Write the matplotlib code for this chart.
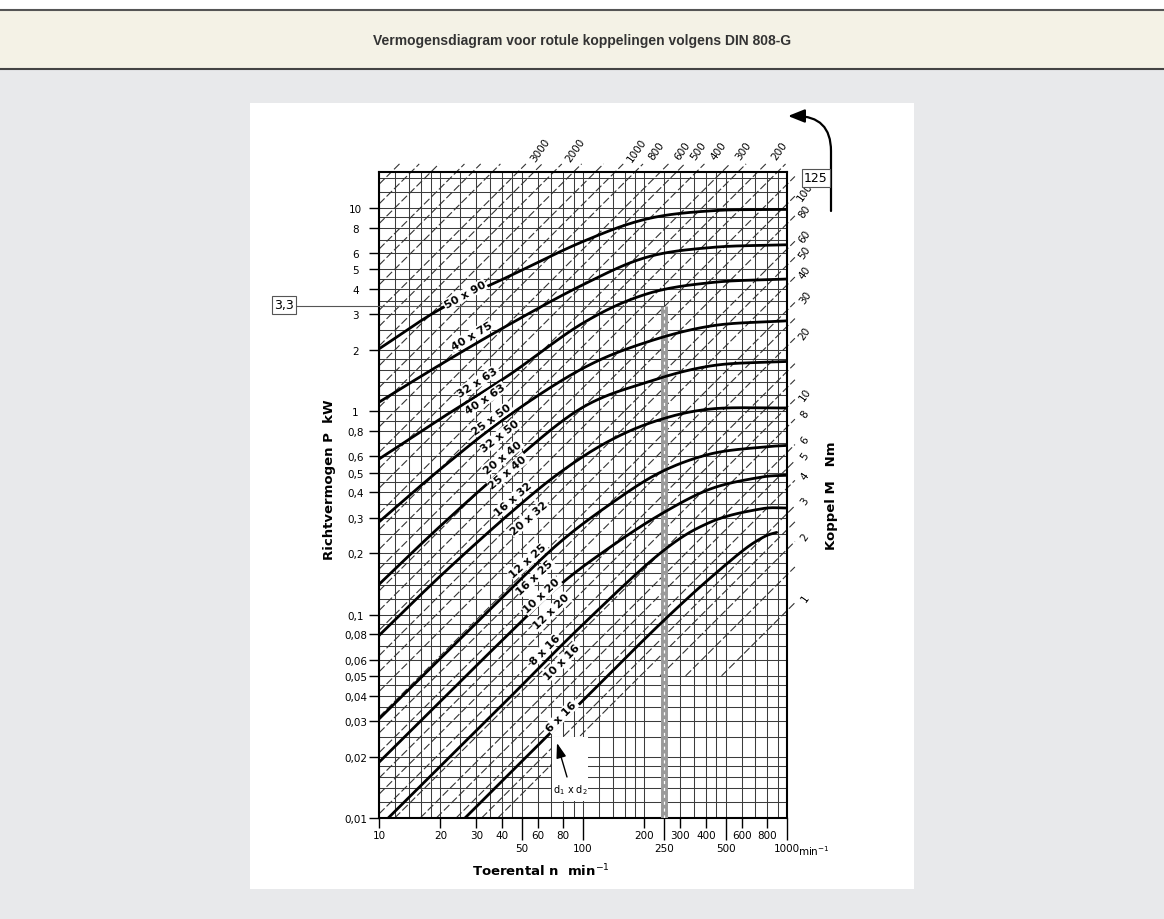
import numpy as np
import matplotlib.pyplot as plt
from matplotlib.patches import Rectangle, FancyArrowPatch
from matplotlib.lines import Line2D
from matplotlib.ticker import NullLocator

W, H = 1164, 920
title = "Vermogensdiagram voor rotule koppelingen volgens DIN 808-G"

# axis ticks
n_ticks_row1 = [10, 20, 30, 40, 60, 80, 200, 300, 400, 600, 800]
n_ticks_row2 = [50, 100, 250, 500, 1000]
p_ticks = [0.01, 0.02, 0.03, 0.04, 0.05, 0.06, 0.08, 0.1, 0.2, 0.3, 0.4,
           0.5, 0.6, 0.8, 1, 2, 3, 4, 5, 6, 8, 10]
p_tick_labels = ["0,01", "0,02", "0,03", "0,04", "0,05", "0,06", "0,08", "0,1",
                 "0,2", "0,3", "0,4", "0,5", "0,6", "0,8", "1", "2", "3", "4",
                 "5", "6", "8", "10"]
grid_steps = [1, 1.2, 1.4, 1.6, 1.8, 2, 2.5, 3, 3.5, 4, 4.5, 5, 6, 7, 8, 9]

# torque lines (Nm)
torque_lines = [1, 1.5, 2, 2.5, 3, 4, 5, 6, 8, 10, 12.5, 15, 20, 25, 30, 40, 50,
                60, 80, 100, 125, 160, 200, 250, 300, 400, 500, 600, 800, 1000,
                1250, 1600, 2000, 2500, 3000, 4000, 5000, 6000, 8000, 10000, 12500]
torque_right_labels = [1, 2, 3, 4, 5, 6, 8, 10, 20, 30, 40, 50, 60, 80, 100]
torque_top_labels = [200, 300, 400, 500, 600, 800, 1000, 2000, 3000]

# coupling curves (n in min-1, P in kW)
n_90 = [10, 20, 43, 100, 205, 433, 1000]
p_90 = [2.03, 3.19, 4.6, 6.85, 8.84, 9.71, 9.85]
n_75 = [10, 20, 43, 100, 205, 433, 1000]
p_75 = [1.11, 1.7, 2.66, 4.2, 5.73, 6.41, 6.6]
n_63 = [10, 20, 43, 100, 205, 433, 1000]
p_63 = [0.583, 0.92, 1.5, 2.72, 3.78, 4.31, 4.48]
n_50 = [10, 20, 43, 100, 205, 433, 1000]
p_50 = [0.286, 0.52, 0.95, 1.63, 2.19, 2.64, 2.79]
n_40 = [10, 20, 43, 97, 205, 433, 1000]
p_40 = [0.141, 0.273, 0.54, 1.03, 1.39, 1.68, 1.76]
n_32 = [10, 20, 43, 77, 136, 238, 433, 1000]
p_32 = [0.079, 0.155, 0.31, 0.50, 0.72, 0.91, 1.03, 1.04]
n_25 = [10, 20, 43, 77, 136, 238, 420, 738, 1000]
p_25 = [0.0307, 0.061, 0.13, 0.227, 0.35, 0.50, 0.617, 0.666, 0.68]
n_20 = [10, 20, 43, 77, 136, 238, 420, 738, 1000]
p_20 = [0.0188, 0.0375, 0.08, 0.14, 0.215, 0.31, 0.415, 0.474, 0.485]
n_16 = [11.1, 20, 43, 97, 238, 420, 738, 1000]
p_16 = [0.01, 0.018, 0.0385, 0.087, 0.2, 0.285, 0.331, 0.335]
n_6 = [26.4, 43, 97, 205, 330, 487, 640, 780, 890]
p_6 = [0.01, 0.0163, 0.0367, 0.0776, 0.122, 0.172, 0.215, 0.243, 0.254]

curves = [(n_90, p_90), (n_75, p_75), (n_63, p_63), (n_50, p_50), (n_40, p_40),
          (n_32, p_32), (n_25, p_25), (n_20, p_20), (n_16, p_16), (n_6, p_6)]

size_labels = ["50 x 90", "40 x 75", "32 x 63", "40 x 63", "25 x 50", "32 x 50",
               "20 x 40", "25 x 40", "16 x 32", "20 x 32", "12 x 25", "16 x 25",
               "10 x 20", "12 x 20", "8 x 16", "10 x 16", "6 x 16"]
# label anchors (n, P) and angle
label_pos = [(26.4, 3.75, 29), (28.5, 2.36, 31), (30.5, 1.40, 33), (33.1, 1.15, 34),
             (35.7, 0.918, 36), (39.2, 0.759, 38), (40.5, 0.597, 39), (42.9, 0.504, 40),
             (45.4, 0.371, 41), (54.3, 0.299, 41), (53.7, 0.184, 42), (58.2, 0.153, 43),
             (62.7, 0.124, 43), (70.2, 0.104, 44), (65.2, 0.0678, 45), (78.6, 0.0585, 45),
             (78.6, 0.0318, 45)]


def fx(x):
    return x / W


def fy(y):
    return 1 - y / H


def smooth(xs, ys, k=40):
    # catmull-rom through the read points, in log-log space
    lx = np.log10(xs)
    ly = np.log10(ys)
    px = np.concatenate([[2 * lx[0] - lx[1]], lx, [2 * lx[-1] - lx[-2]]])
    py = np.concatenate([[2 * ly[0] - ly[1]], ly, [2 * ly[-1] - ly[-2]]])
    t = np.linspace(0, 1, k, endpoint=False)
    ox, oy = [], []
    for i in range(1, len(px) - 2):
        for a, out in ((px, ox), (py, oy)):
            p0, p1, p2, p3 = a[i - 1:i + 3]
            out.append(0.5 * (2 * p1 + (-p0 + p2) * t
                              + (2 * p0 - 5 * p1 + 4 * p2 - p3) * t ** 2
                              + (-p0 + 3 * p1 - 3 * p2 + p3) * t ** 3))
    ox = np.concatenate(ox + [[lx[-1]]])
    oy = np.concatenate(oy + [[ly[-1]]])
    return 10 ** ox, 10 ** oy


fig = plt.figure(figsize=(W / 100, H / 100), dpi=100)
fig.patch.set_facecolor('#e8e9eb')

# header band
fig.add_artist(Rectangle((0, fy(11)), 1, 11 / H, transform=fig.transFigure,
                         facecolor='white', edgecolor='none', zorder=-10))
fig.add_artist(Rectangle((0, fy(70)), 1, 59 / H, transform=fig.transFigure,
                         facecolor='#f4f2e6', edgecolor='none', zorder=-10))
fig.add_artist(Line2D([0, 1], [fy(11), fy(11)], transform=fig.transFigure,
                      color='#555555', lw=1.5))
fig.add_artist(Line2D([0, 1], [fy(70), fy(70)], transform=fig.transFigure,
                      color='#444444', lw=1.5))
fig.text(0.5, fy(41), title, ha='center', va='center', fontsize=10,
         fontweight='bold', color='#333333', family='Liberation Sans')

# white panel
fig.add_artist(Rectangle((fx(250), fy(890)), (914 - 250) / W, (890 - 104) / H,
                         transform=fig.transFigure, facecolor='white',
                         edgecolor='none', zorder=-5))

p_top = 15.05
ax = fig.add_axes([fx(379), fy(819), (787 - 379) / W, (819 - 173) / H])
ax.set_xscale('log')
ax.set_yscale('log')
ax.set_xlim(10, 1000)
ax.set_ylim(0.01, p_top)
ax.set_facecolor('white')

# grid
for dec in [10, 100]:
    for s in grid_steps:
        ax.axvline(dec * s, color='#3c3c3c', lw=0.75, zorder=1)
for dec in [0.01, 0.1, 1, 10]:
    for s in grid_steps:
        if dec * s < p_top:
            ax.axhline(dec * s, color='#3c3c3c', lw=0.75, zorder=1)

# torque lines
nn = np.geomspace(8, 1300, 4000)
for m in torque_lines:
    pp = m * nn / 9550
    pmin = 0.05 if m <= 2 else 0.01
    ok = (nn >= 10) & (nn <= 1094) & (pp >= pmin) & (pp <= 16.5)
    ax.plot(nn[ok], pp[ok], color='#333333', lw=0.8, ls=(0, (7, 2.5)),
            zorder=2, clip_on=False)

for m in torque_right_labels:
    ax.text(1225, m * 1000 / 9550 * 1.16, str(m), rotation=55, fontsize=7.5,
            ha='center', va='center', clip_on=False)
for m in torque_top_labels:
    ax.text(9550 * p_top / m * 1.282, 19.3, str(m), rotation=55, fontsize=7.5,
            ha='center', va='center', clip_on=False)

# example: 3,3 kW at 250 min-1
ax.plot([250, 250], [0.01, 3.3], color='#9a9a9a', lw=5, zorder=3,
        solid_capstyle='butt')
ax.plot([250, 250], [0.01, 3.3], color='white', lw=0.9, ls=(0, (2.5, 3)), zorder=3)
ax.plot([10 ** (1 + (297 - 379) / 204), 250], [3.3, 3.3], color='#555555', lw=0.8,
        zorder=3, clip_on=False)
fig.text(fx(284), fy(306), "3,3", fontsize=9, ha='center', va='center',
         bbox=dict(boxstyle='square,pad=0.2', facecolor='white', edgecolor='#555555', lw=0.8))
fig.text(fx(816), fy(179), "125", fontsize=9, ha='center', va='center',
         bbox=dict(boxstyle='square,pad=0.2', facecolor='white', edgecolor='#555555', lw=0.8))

# coupling curves
for ns, ps in curves:
    sx, sy = smooth(ns, ps)
    ax.plot(sx, sy, color='black', lw=2.0, zorder=4, solid_capstyle='round')

for lab, (n, p, ang) in zip(size_labels, label_pos):
    ax.text(n, p, lab, rotation=ang, rotation_mode='anchor', ha='center',
            va='center', fontsize=8, fontweight='bold', zorder=6,
            bbox=dict(boxstyle='square,pad=0.08', facecolor='white', edgecolor='none'))

# d1 x d2 marker
fig.add_artist(Rectangle((fx(552), fy(802)), 36 / W, 64 / H, transform=fig.transFigure,
                         facecolor='white', edgecolor='none', zorder=5))
fig.add_artist(FancyArrowPatch((fx(567), fy(778)), (fx(557), fy(744)),
                               transform=fig.transFigure, arrowstyle='-|>,head_length=9,head_width=3',
                               mutation_scale=1, lw=1.0, color='black', zorder=6,
                               shrinkA=0, shrinkB=0))
fig.text(fx(570), fy(790), r"d$_1$ x d$_2$", fontsize=7, ha='center', va='center', zorder=6)

# curved arrow top right
fig.add_artist(FancyArrowPatch((fx(831), fy(212)), (fx(788), fy(117)),
                               transform=fig.transFigure,
                               connectionstyle='angle,angleA=90,angleB=0,rad=35',
                               arrowstyle='-|>,head_length=10,head_width=4',
                               mutation_scale=1, lw=1.6, color='black',
                               shrinkA=0, shrinkB=0))

# ticks
ax.set_xticks(n_ticks_row1, [str(v) for v in n_ticks_row1])
ax.set_xticks(n_ticks_row2, [str(v) for v in n_ticks_row2], minor=True)
ax.set_yticks(p_ticks, p_tick_labels)
ax.yaxis.set_minor_locator(NullLocator())
ax.tick_params(axis='x', which='major', length=7, width=1, pad=2, labelsize=7.5)
ax.tick_params(axis='x', which='minor', length=16, width=1, pad=2, labelsize=7.5)
ax.tick_params(axis='y', which='major', length=7, width=1, pad=10, labelsize=7.5)
for lab in ax.get_yticklabels():
    lab.set_horizontalalignment('center')

for sp in ax.spines.values():
    sp.set_linewidth(1.5)

fig.text(fx(814), fy(851), r"min$^{-1}$", fontsize=7.5, ha='center', va='center')
fig.text(fx(541), fy(871), r"Toerental n  min$^{-1}$", fontsize=9.5,
         fontweight='bold', ha='center', va='center')
fig.text(fx(330), fy(480), "Richtvermogen P  kW", fontsize=9.5, fontweight='bold',
         rotation=90, ha='center', va='center')
fig.text(fx(831), fy(496), "Koppel M   Nm", fontsize=9.5, fontweight='bold',
         rotation=90, ha='center', va='center')

fig.savefig("out.png", dpi=100)
